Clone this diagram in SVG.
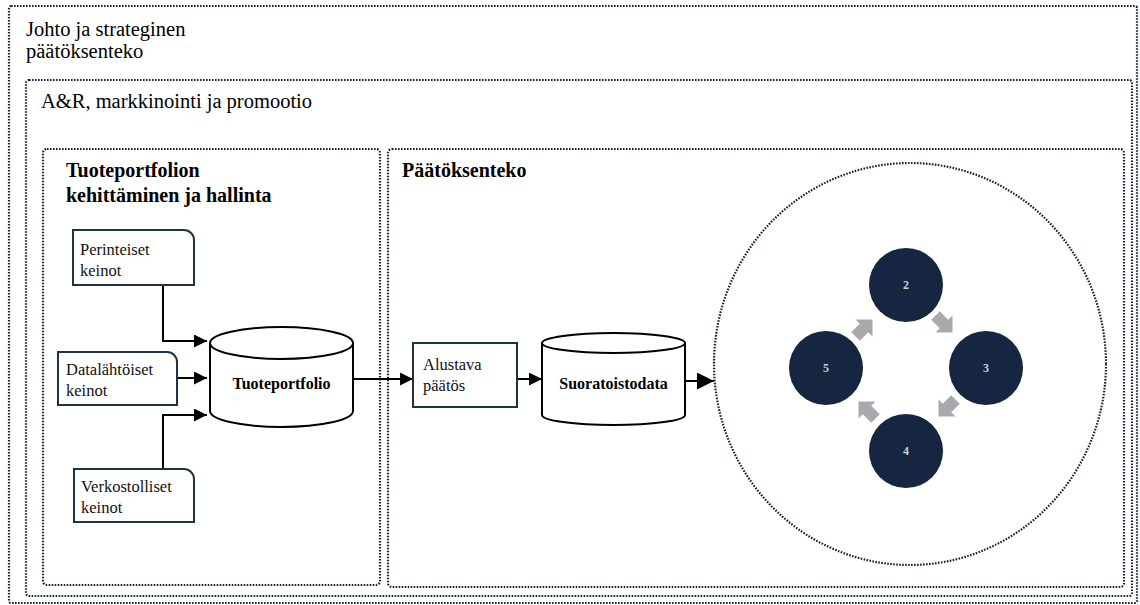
<svg xmlns="http://www.w3.org/2000/svg" width="1140" height="605" viewBox="0 0 1140 605">
  <defs>
    <style>
      .frame { fill: none; stroke: #142434; stroke-width: 2.2; stroke-dasharray: 1.6 1.4; }
      .title { font-family: "Liberation Serif", "Times New Roman", serif; font-size: 20.5px; fill: #000; }
      .head { font-family: "Liberation Serif", "Times New Roman", serif; font-size: 20px; font-weight: bold; fill: #000; }
      .lbl { font-family: "Liberation Serif", "Times New Roman", serif; font-size: 16.5px; fill: #111; }
      .db { font-family: "Liberation Serif", "Times New Roman", serif; font-size: 16px; font-weight: bold; fill: #000; text-anchor: middle; }
      .box { fill: #fff; stroke: #1e3445; stroke-width: 2; }
      .cyl { fill: #fff; stroke: #000; stroke-width: 2; }
      .wire { fill: none; stroke: #000; stroke-width: 2; }
      .step { fill: #13253f; }
      .num { font-family: "Liberation Serif", "Times New Roman", serif; font-size: 12px; fill: #c9ced6; text-anchor: middle; font-weight: bold; }
      .turn { fill: #a7a9ac; }
    </style>
    <marker id="head" markerUnits="userSpaceOnUse" markerWidth="13" markerHeight="13" refX="13" refY="6.5" orient="auto">
      <path d="M0,0 L13,6.5 L0,13 z" fill="#000"/>
    </marker>
    <marker id="headBig" markerUnits="userSpaceOnUse" markerWidth="17" markerHeight="17" refX="17" refY="8.5" orient="auto">
      <path d="M0,0 L17,8.5 L0,17 z" fill="#000"/>
    </marker>
    <polygon id="turnArrow" points="-12,-6 0,-6 0,-12 12,0 0,12 0,6 -12,6"/>
    <filter id="soft" x="-10%" y="-10%" width="120%" height="120%">
      <feGaussianBlur stdDeviation="0.7"/>
    </filter>
  </defs>

  <rect width="1140" height="605" fill="#fff"/>

  <!-- nested areas -->
  <g id="area-management">
    <rect class="frame" x="9" y="6" width="1128" height="597" rx="2"/>
    <text class="title" x="26" y="36">Johto ja strateginen</text>
    <text class="title" x="26" y="58">päätöksenteko</text>
  </g>
  <g id="area-ar">
    <rect class="frame" x="26" y="80" width="1106" height="516" rx="3"/>
    <text class="title" x="41" y="108">A&amp;R, markkinointi ja promootio</text>
  </g>
  <g id="area-portfolio">
    <rect class="frame" x="43" y="149" width="337" height="436" rx="4"/>
    <text class="head" x="66" y="177">Tuoteportfolion</text>
    <text class="head" x="66" y="202">kehittäminen ja hallinta</text>
  </g>
  <g id="area-decision">
    <rect class="frame" x="388" y="149" width="736" height="438" rx="4"/>
    <text class="head" x="402" y="177">Päätöksenteko</text>
  </g>

  <!-- connectors -->
  <g id="connectors">
    <polyline class="wire" points="163,285 163,341 207,341" marker-end="url(#head)"/>
    <line class="wire" x1="177" y1="378" x2="207" y2="378" marker-end="url(#head)"/>
    <polyline class="wire" points="163,469 163,415 207,415" marker-end="url(#head)"/>
    <line class="wire" x1="353" y1="379" x2="413" y2="379" marker-end="url(#head)"/>
    <line class="wire" x1="517" y1="379" x2="542" y2="379" marker-end="url(#head)"/>
    <line class="wire" x1="685" y1="381" x2="714" y2="381" stroke-width="3" marker-end="url(#headBig)"/>
  </g>

  <!-- source boxes -->
  <g id="node-perinteiset">
    <path class="box" d="M73,230 H184 A10,10 0 0 1 194,240 V285 H73 Z"/>
    <text class="lbl" x="80" y="255">Perinteiset</text>
    <text class="lbl" x="80" y="276">keinot</text>
  </g>
  <g id="node-datalahtoiset">
    <path class="box" d="M58,352 H167 A10,10 0 0 1 177,362 V405 H58 Z"/>
    <text class="lbl" x="66" y="375">Datalähtöiset</text>
    <text class="lbl" x="66" y="396">keinot</text>
  </g>
  <g id="node-verkostolliset">
    <path class="box" d="M74,469 H184 A10,10 0 0 1 194,479 V522 H74 Z"/>
    <text class="lbl" x="81" y="492">Verkostolliset</text>
    <text class="lbl" x="81" y="513">keinot</text>
  </g>

  <!-- data stores -->
  <g id="node-tuoteportfolio">
    <path class="cyl" d="M210,343 V411 A71.5,16 0 0 0 353,411 V343"/>
    <ellipse class="cyl" cx="281.5" cy="343" rx="71.5" ry="16"/>
    <text class="db" x="281.5" y="389">Tuoteportfolio</text>
  </g>
  <g id="node-alustava">
    <rect class="box" x="413" y="343" width="104" height="64"/>
    <text class="lbl" x="423" y="370">Alustava</text>
    <text class="lbl" x="423" y="391">päätös</text>
  </g>
  <g id="node-suoratoistodata">
    <path class="cyl" d="M542,343 V415 A71.5,10 0 0 0 685,415 V343"/>
    <ellipse class="cyl" cx="613.5" cy="343" rx="71.5" ry="10"/>
    <text class="db" x="613.5" y="389">Suoratoistodata</text>
  </g>

  <!-- decision cycle -->
  <g id="node-cycle">
    <ellipse class="frame" cx="910" cy="364" rx="196" ry="201"/>
    <g filter="url(#soft)">
      <circle class="step" cx="906" cy="285" r="37"/>
      <circle class="step" cx="986" cy="368" r="37"/>
      <circle class="step" cx="906" cy="451" r="37"/>
      <circle class="step" cx="826" cy="368" r="37"/>
      <use href="#turnArrow" class="turn" transform="translate(944,324) rotate(45)"/>
      <use href="#turnArrow" class="turn" transform="translate(947,408) rotate(135)"/>
      <use href="#turnArrow" class="turn" transform="translate(867,410) rotate(225)"/>
      <use href="#turnArrow" class="turn" transform="translate(864,328) rotate(-45)"/>
    </g>
    <text class="num" x="906" y="289">2</text>
    <text class="num" x="986" y="372">3</text>
    <text class="num" x="906" y="455">4</text>
    <text class="num" x="826" y="372">5</text>
  </g>
</svg>
